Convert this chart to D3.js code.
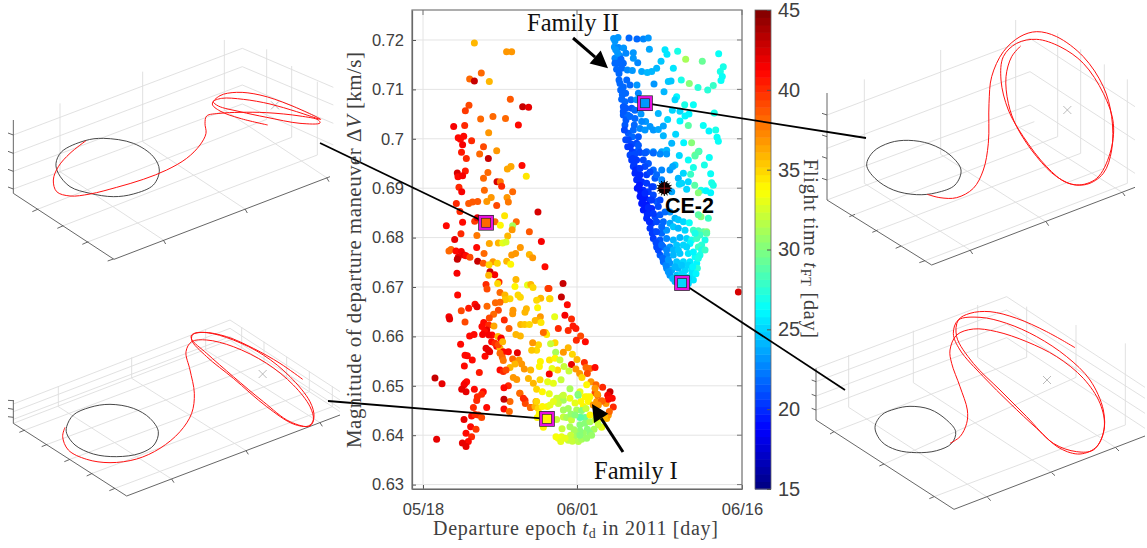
<!DOCTYPE html>
<html>
<head>
<meta charset="utf-8">
<script src="https://cdn.jsdelivr.net/npm/d3@7"></script>
<style>
  html, body { margin: 0; padding: 0; background: #fff; }
  svg { display: block; }
  .tick text { font-family: "Liberation Sans", Arial, sans-serif; fill: #404040; }
  .serif { font-family: "Liberation Serif", serif; fill: #404040; }
</style>
</head>
<body>
<script>
//
// DATA: each point is [days after 05/18, departure dV in m/s, flight time in days]
//
var familyI_upper = [
[4.67,719.4,36],[7.6,717.6,37],[8.06,717.6,37],[5.3,713.3,38],[6.03,711.6,36],[4.24,712.1,38],[4.67,711.7,43],
[7.94,708,38.5],[4.18,706.8,39],[3.85,705.7,39.5],[9.06,706.5,43],[9.6,706.4,42],[6.36,704.5,38],[7.5,704.1,38],
[5.24,704,38],[2.79,702.5,41.5],[3.79,702.7,40],[8.67,702.8,41],[5.97,701.2,37],[3.2,700.2,41],[3.7,700.5,41],
[3.4,699.9,41],[3.6,698.8,41.5],[4.42,699.6,40],[5.5,698.4,39],[3.5,697.3,40.5],[6.7,697.6,37],[5.15,696.9,38],
[3.94,696,40],[5.94,696,43],[9,694.6,41],[8,694.4,36.5],[7.67,693.9,36.5],[9.39,692.4,34.5],[3.85,693.5,40.5],
[3.12,693.1,42.5],[3.18,692.3,41],[3.6,692.5,41.5],[5.9,693.2,38],[5.5,692,38],[6.73,691.3,42.5],[7.03,691.3,37.5],
[7.15,690.4,40],[3.27,690.2,40],[3.52,689.3,41.5],[5.58,689.6,38],[8.15,689.3,38],[6.2,688.1,37],[5.8,687.3,37],
[7.64,688.1,37],[7.76,687.2,37.5],[4.97,687.3,38.5],[4.5,687.2,38.5],[4.15,686.9,38.5],[3.03,686.9,40],[6.7,686.5,39],
[3.36,685.3,40],[10.45,685.2,42.5],[7.42,684.4,34.5],[3.6,683.1,41],[4.7,683.3,39.5],[4.94,684,42],[6.55,683.2,38],
[7.03,682.5,34],[8.48,683.2,38],[8.15,682.4,31],[8.1,681.6,37],[2.12,682.4,41],[3.45,680.8,40],[4.9,680.4,37.5],
[7.7,680.3,36],[9.67,681.2,38.5],[2.88,679.6,42],[10.76,679.2,41.5],[6.03,678.8,36.5],[6.85,678.9,36],[7.24,678.9,33],
[7.55,679.1,32.5],[8.85,678,37],[4.88,678,41],[8.42,676.8,37],[8.06,676.5,37],[9.67,676.6,36],[9.97,675.9,37],
[5.55,676.8,38],[2.36,677.3,38],[2.55,677.6,38],[3,677.3,41],[3.48,677.2,41.5],[3.2,676,42],[3.12,675.6,43],
[3.73,676.5,42],[3.91,676.3,41],[4.27,676,39],[4.97,675.2,43],[5.48,674.8,38.5],[6.36,675.1,37],[6,674.5,35],
[6.76,674.8,35],[7.61,675.2,36],[7.97,674.6,34],[11.09,674.1,41]
];
var familyI_middle = [
[3.09,672.8,41.5],[6.09,673.1,43],[6.52,672.5,41.5],[5.97,672.4,36],[6.91,671,40],[8.45,671.5,36],[5.73,670.5,40],
[5.82,669.6,39],[6.79,670.7,35],[9.5,670.4,33],[9.8,670.5,36],[10,669.9,35],[8.36,670.1,34],[11.36,669.7,39],
[3.15,668.4,41],[7,668.9,38],[7.45,668.4,36],[7.91,667.6,35],[7.48,667.4,35.5],[8.64,668.4,35],[8.85,667.9,35],
[10.7,667.7,36],[10.33,667.3,35],[11.5,667.6,34.5],[10.42,665.8,34],[6.58,666.8,38],[7,666.9,38],[4.73,666.5,41],
[4.91,666,42],[5.82,666.1,38],[4.15,665.7,40.5],[3.48,665.2,39],[6.85,665.3,39],[6.42,664.5,38],[8.18,665.3,37],
[8.15,664.6,37],[9.4,665.6,36],[9.27,664.9,36],[10.67,664,37],[6.03,663.7,39],[2.36,664,41.5],[2.42,663.5,42],
[7.39,663.3,40],[3.82,662.9,39],[5.52,662.8,41],[10.52,663.3,36.5],[10.2,663.2,36],[10.73,662.8,34.5],[8.88,662.4,36],
[9.24,662.4,35.5],[9.67,662.4,35],[7.82,661.6,38.5],[11.12,660.8,36],[5.97,662.3,40],[6.45,662.1,36.5],[5.79,661.3,42],
[5.36,662,41],[5.6,661,41],[5.42,660.4,41.5],[4.24,660.1,41],[4.64,660.4,41],[6.27,660.3,41],[6.82,660,36],[7.1,659.7,41],
[8.45,660.4,36],[8.85,660.1,36],[12.73,670.7,43],[11.45,669.7,39.5],[12.58,668,43],[11.55,667.6,35],[13.12,666.4,41],
[12.9,664.3,41.5],[13.5,663.5,40],[11.97,664,33],[13.64,662.1,40.5],[12.3,661.6,40],[13.2,661.2,40],[13.9,661.6,40.5],
[14.33,660.1,39],[13.94,659.2,40],[14.76,658.9,41],[11.24,660.4,34.5],[10.94,660.8,38],[12,658.7,35],[11.6,658.5,32],
[10.5,658.3,35],[9.97,658.7,37],[10.33,657.2,35],[9.88,657.2,35.5],[13.2,657.7,36],[12.76,656.8,37],[12.06,656.8,31],
[13.58,656.4,35],[10.67,654.9,34],[11.5,655.2,34.5],[12,655.6,34],[12.45,655.2,32],[14,655.3,36],[13.5,654.3,42],
[10.58,653.9,34],[12.82,653.9,32],[12.24,653.2,35],[11.73,653.5,33],[13.27,653,32],[13.9,653.4,37],[14.67,654.7,40],
[14.82,653.7,38],[15.18,653.5,38],[15.64,653.7,41],[14.24,652.5,37],[14.94,652.5,39],[14.45,651.7,35],[12.55,651.2,32],
[11.48,652.4,41.5],[11.33,650.8,33],[11.85,650.5,33],[10.64,651.2,35],[9.79,653.2,36],[9.58,651.5,36],[10.03,650.5,36]
];
var familyI_lowerLeft = [
[1.09,651.6,43],[1.73,650.4,42],[1.24,639.2,42],[3.42,658.4,41],[3.82,656.2,41],[4.03,656.1,41],[4.48,655.2,41],
[3.76,654,41],[5.12,652.7,40.5],[3.97,650.8,41],[3.82,650.5,41],[3.73,650.2,41.5],[3.52,649.3,42],[3.91,648.8,42],
[4.67,649.3,41],[5.48,648.8,41],[5.33,648.3,40],[4.94,647.8,40],[4.88,647,40],[4.58,645.6,40],[5.79,645.6,41],
[3.73,643.2,42],[4.42,643.9,41],[4.73,644.2,40],[5.03,644.1,40],[5.33,643.6,39],[4.33,641.7,41],[4.82,641.2,39.5],
[3.91,640.4,41],[4.42,639.7,40],[4.12,638.7,41],[3.58,638.4,42],[3.91,637.7,42],[7.09,659.5,41.5],[5.73,657.6,42],
[5.94,657.2,42],[5.64,656,41],[6.06,656.9,42],[6.7,658,41],[7,657.6,36],[7.3,656.9,41],[7.76,656.9,41],[8.58,656.7,42],
[7,656.6,38],[7.21,655.8,38],[7.3,655.1,37.5],[8.15,655.4,38],[8.73,655.2,37],[8.36,654.4,36],[8.97,654.4,37],
[9.21,653.4,37],[7.91,653.7,36],[7,653.2,41],[7.3,652.9,40],[7.55,653.2,39],[8.21,651.7,37],[8.52,651.3,37],[7.76,650,40],
[7.36,649.6,41],[7.91,646.8,38],[7.36,647.3,43],[7.36,645.3,41],[7.85,644.8,38],[8.82,648.5,37],[9.27,647.1,40],
[9.3,646.4,39],[9.79,645.6,38.5],[6,660.3,41.5],[6.24,658.9,41],[6.55,658.6,40],[6.85,658.3,39],[7.24,658.9,36]
];
var familyI_lowerRight = [
[8.79,648.5,38],[9.12,647.5,40],[10.27,646.8,37],[9.76,645.6,38],[10.18,645.8,36],[10.48,645.4,35],[10.85,645.8,34],
[11.3,645.8,34],[11.55,646.1,33],[10.39,643.6,34],[10.58,644.4,34],[10.94,641.6,34],[12.15,643.2,32],[11.55,643.4,33],
[12.76,643.7,32],[13.06,643.6,31],[13.5,643.1,32],[14.33,643.7,30],[14.73,643.6,29.5],[12.64,641.3,32],[13.36,641.7,31],
[14.27,642.1,30],[14.73,642.4,30],[15.18,642.7,31],[15.64,643.1,32],[16.03,643.4,33],[16.39,643.8,34],[16.7,643.4,36],
[16.85,644.1,37],[16.24,641.6,33],[15.94,642.1,32],[15.55,641.2,31],[15.18,640.4,30],[14.94,641.2,30],[14.58,640.4,30.5],
[14.27,640.9,30],[14.03,640.2,30.5],[13.73,641.1,31],[13.73,639.7,31],[13.42,640,32],[13.21,639,32],[12.91,639.4,33],
[12.6,639.7,33],[12.3,639.4,33.5],[12.09,639.7,33.5],[12.52,638.7,33],[13.58,638.8,32],[14.12,638.7,31.5],[14.42,639.2,31],
[14.88,639.4,30.5],[15.33,640,30.5],[14.27,640,30],[12.67,647.9,31],[12.36,647.5,32],[12.76,647.1,31],[13.36,647.5,33],
[14.12,648.1,29],[14.36,646.8,34],[14.94,647.8,33],[15.03,646.8,34],[14.58,645.8,34],[13.82,646.5,33],[12.3,646.4,32],
[13.2,645.4,31],[12.76,645.1,31],[13.45,644.3,30.5],[13.97,645.1,31],[14.42,645,30],[14.82,645.4,32],[14.27,643.6,29],
[13.82,644.1,30],[15.18,644.1,34],[15.48,646.1,37],[15.79,646.8,37],[16.24,646.9,38.5],[16.64,646.4,37],[15.88,648.1,38],
[15.64,648.6,39],[12.15,647.5,32],[10.33,649.3,35],[10.85,648.8,34],[11.48,648.4,33],[12.76,648.1,32],[13.36,649.4,31],
[11.85,646.8,33],[10.33,646.8,35],[15.27,650.8,37],[14.88,650.2,34],[15.73,650.2,38],[16.33,649.7,40],[15.64,649.5,37],
[14.27,648.8,33],[14.09,648.3,30],[14.73,647.8,34],[15.18,647.8,34],[15.85,648.3,37],[17,648.8,43],[16.79,648.1,41.5],
[16.85,647.3,41],[17.2,647.5,41],[16.3,646.9,38],[15.94,646.1,37],[17.3,645.7,40],[16.94,644.8,38],[16.52,643.9,36]
];
var familyII_upper = [
[17.33,720.3,23],[17.73,720.5,23],[17.45,719.8,23],[18.73,720.4,22],[19.45,720.2,22],[20.03,720.2,22.5],[20.48,720.4,23],
[17.4,718.6,23],[17.76,718.5,22.5],[18.24,718.4,23],[18.45,717.3,22.5],[19.12,717.4,23],[20.58,718.1,23.5],[22,718,25.5],
[22.18,717.1,25.5],[23.15,717.7,27],[23.88,716.1,31],[25.39,715.7,29.5],[26.88,717.2,26.5],[17.88,716.8,22.5],
[17.45,716.3,22.5],[17.67,715.3,22],[18,716.1,22],[19.52,715.4,22.5],[21.64,715.7,24.5],[27.3,714.6,27],[27.03,713.6,27],
[17.6,714.1,22],[18.06,714.3,22],[18.58,713.9,22.5],[19.03,713.8,23],[19.88,713.6,23.5],[20.39,713.4,24],[20.79,713.6,24],
[21.24,714.3,24],[22.76,714.3,25.5],[27.21,712.6,26.5],[27.09,711.8,26.5],[17.91,711.2,22],[18.52,711.9,22],[18.82,710.9,22],
[19.45,710.9,23],[21,711.1,23],[22.3,711.6,24.5],[22.55,711.7,24.5],[23.48,711.9,27],[24.21,711.2,30],[25,710.4,27.5],
[25.88,709.9,27.5],[26.39,710.8,28],[17.97,709.9,22],[18.12,708.9,22],[18.42,709.2,22],[21.91,709.5,24],[23.06,708.5,26],
[22.91,707.9,25],[18.06,708,22],[18.36,707.5,22],[18.91,707.9,22],[19.42,707.9,23],[18.45,706.2,21.5],[18.97,706.2,21.5],
[19.27,705.8,22],[19.82,705,23],[21.39,705.1,24],[22.67,705.8,25],[23.36,705.6,25],[23.79,706.9,27],[24.58,706.9,26.5],
[24.18,705,26],[23.82,704.6,26],[18.21,704.8,21.5],[18.61,704.8,22],[18.45,703.8,21.5],[20.24,703.5,23],[22.24,703.9,25],
[23.36,703.6,26],[26.48,705.2,27],[18.36,702.8,21.5],[19.21,702.8,22],[19.73,702.1,22.5],[20.64,702.5,23],[20.94,701.8,23],
[21.39,701.9,23.5],[21.85,702.6,23.5],[24.12,702.7,29],[25.48,702.7,26.5],[26,701.6,26],[26.61,701.8,27],[18.67,701.1,21.5],
[19.03,700.4,22],[19.58,700.4,21.5],[21.85,700.6,24],[22.97,700.9,25],[26.73,700.3,26.5],[26.85,699.5,26.5],[18.67,699.8,21],
[18.97,698.9,21],[19.42,699.1,21],[22.61,699.1,24],[23.7,699.2,26],[24.42,699.2,30],[18.82,698.4,20.5],[19.58,697.7,21.5],
[20.33,697.4,22],[20.94,697.4,23],[21.7,697.4,23.5],[22.15,697.7,24],[25.09,697.5,27.5],[24.73,696.7,30],
[17.52,718,23],[17.7,717.3,23],[17.45,715.3,22],[17.82,713.2,22],[17.82,711.9,22],[18.21,710.5,22],[18.21,706.5,21.5],
[18.21,705.5,21.5],[18.82,704.5,22],[18.31,701.8,21],[19.12,701.8,22],[18.43,699.8,21],[18.61,698.4,20.5],[19.03,697.4,20.5],
[19.58,698.7,21.5],[19.27,704.1,22],[19.88,703.5,22.5],[19.58,709.2,22.5],[20.18,701.8,23],[19.12,716.3,23],[18.21,715.3,22]
];
var familyII_lower = [
[18.82,696.7,21],[19.27,696.9,21],[19.73,697.2,21],[20.18,697.1,21.5],[20.94,697.1,22],[21.55,696.9,22.5],[22.15,696.9,23],
[23.3,696.6,25],[24.12,695.7,26.5],[25.03,697.4,29],[24.73,696.5,29],[26.03,696.2,26.5],[18.97,695.7,20.5],[19.42,695.7,20.5],
[20.03,695.7,21],[20.49,695,21.5],[22.91,694.7,24.5],[25.58,694.7,27],[24.58,694.2,27],[19.12,694.4,20.5],[19.58,694,20.5],
[20.18,694.4,21],[20.94,693.7,22],[21.7,693.7,22.5],[22.45,693.7,23],[22.7,694.4,23.5],[23.67,693,25],[24.33,692.8,28],
[26.15,692.9,26.5],[19.27,693,20],[19.73,692.7,20],[20.33,692.7,20.5],[21.09,692,21.5],[21.7,691.7,22.5],[23.21,692,24],
[23.52,691,25],[24.12,691.3,25],[26.24,691.1,27],[26.39,690.6,27],[24.7,690.6,29],[19.42,691.7,20],[19.88,691.3,20],
[20.33,691,20.5],[20.94,690.3,21],[23.3,690.8,25],[23.97,689.8,25],[25.27,689.6,27],[25.73,689.5,26],[25.03,689.1,30],
[26.15,689.1,26],[19.48,690,19.5],[20.03,689.6,20],[20.48,689.3,20.5],[20.94,688.6,21],[22.61,689.3,23.5],[19.73,688.3,19.5],
[20.18,688,19.5],[20.64,687.6,20],[21.24,687.3,21.5],[21.55,687.6,21],[19.88,686.9,19.5],[20.33,686.6,19.5],[20.79,685.9,20],
[21.39,686.3,21],[20.03,685.6,19.5],[20.48,684.9,20],[21.09,684.2,21],[21.55,684.6,21.5],[22.91,683.9,24],[23.21,683.6,24.5],
[23.67,683.2,25],[24.21,683,26.5],[25.27,684.2,30],[25.94,683.9,28],[25.03,684.6,29],[20.33,683.9,20],[20.79,682.9,20.5],
[21.24,683.2,21],[21.85,683.2,22],[22.45,682.9,23.5],[20.64,681.9,20.5],[21.09,681.2,21],[21.7,680.9,22],[22.15,681.5,23],
[22.76,682.2,24.5],[23.21,681.9,24],[23.82,681.5,25],[24.58,681.5,28],[25.03,681.4,28.5],[25.49,681.2,29],[25.79,681.2,30],
[25.18,680.5,28],[20.94,679.8,20.5],[21.55,679.5,21.5],[22.15,679.8,22.5],[22.76,679.5,24],[23.36,680,24],[23.97,679.8,25],
[24.42,679.5,27],[24.88,679.8,28],[25.64,679.5,27],[25.33,678.5,27.5],[21.24,678.1,21],[21.85,678.1,22],[22.45,678.1,23],
[23.06,678.5,24.5],[23.67,678.5,25],[24.27,678.8,26],[25.03,678.1,28],[21.55,676.5,21.5],[22.15,676.5,22.5],[22.76,676.5,24],
[23.36,676.8,24.5],[24.12,676.8,25.5],[24.73,676.1,26.5],[25.33,677.5,27],[21.85,675.1,22],[22.45,674.8,23],[23.06,675.1,24.5],
[23.67,675.1,25],[24.27,675.1,25.5],[24.88,674.8,26],[22.15,673.8,22.5],[22.61,673.4,23.5],[23.21,673.8,24],[23.82,673.4,25],
[24.42,673.4,25.5],[24.94,673.8,27.5],[22.45,672.4,23],[23.06,672.4,24.5],[23.82,672.1,25],[24.42,672.4,25.5],[24.82,672.7,26],
[22.91,671.1,24],[24.12,670.7,25],[24.58,671.4,25.5],
[19.06,696,20.5],[19.18,694.9,20.5],[19.33,693.7,20],[19.58,692,20],[19.67,690.6,19.5],[19.79,689.3,19.5],[19.97,687.6,19.5],
[20.18,685.9,19.5],[20.39,684.6,20],[20.58,683.2,20],[20.85,680.9,20.5],[21.18,679,21],[21.39,677.5,21],[21.79,675.8,22],
[22.09,674.4,22.5],[22.3,673.1,23],[22.7,671.7,24],[19.73,694,20.5],[20.64,693.3,21],[21.24,692.7,22],[20.79,690.3,20.5],
[20.18,689,20],[20.79,687.6,20.5],[20.48,686.1,20],[20.94,684.9,20.5],[21.7,682.2,22],[21.24,681.2,21],[21.7,678.5,22],
[22.15,677.5,22.5],[22.76,677.5,24],[22.3,675.5,23],[22.91,674.1,24],[23.52,672.7,25],[23.52,674.4,24.5],[24.12,674.4,25],
[24.12,671.7,25],[23.36,671.7,25],[23.21,677.5,24.5],[23.97,678.1,25],[24.58,677.1,26],[25.18,676.5,27],[24.52,674.1,26],
[25.03,675.8,27],[25.64,677.5,28],[25.79,680.9,29],[24.73,680.9,27],[22.45,685.2,23],[22,685.2,22]
];
var outliers = [[28.67,669,42.5]];
var picked = [[5.73,683,38],[11.27,643.3,34],[20.18,707.2,23],[23.55,670.8,25]];
var ce2 = [21.94,690,22];

var xTickDays = [0,14,29];
var xTickLabels = ["05/18","06/01","06/16"];
var yTicks = [0.63,0.64,0.65,0.66,0.67,0.68,0.69,0.7,0.71,0.72];
var cTicks = [15,20,25,30,35,40,45];

// 3D thumbnails. Coordinates are read in a 3x crop of each panel, 'at' is the crop origin
var panelTL_at = [0,30];
var panelTL_grid = [[40,315,727,55],[40,370,727,110],[40,424,727,165],[40,477,727,222],[727,55,1000,172],[727,110,1000,225],[727,165,1000,280],[727,222,1000,345],
  [180,220,180,430],[428,125,428,335],[673,30,673,240],[800,58,800,268],[875,108,875,322],[952,155,952,375],
  [115,537,800,268],[190,587,875,322],[265,635,952,375],[180,425,490,630],[428,335,735,537],[673,240,980,443]];
var panelTL_axes = [[40,270,40,490],[40,490,342,688],[342,688,990,440],[40,315,24,309],[40,370,24,364],[40,424,24,418],[40,477,24,471],
  [115,537,97,545],[190,587,172,595],[265,635,247,643],[340,687,323,693],[490,630,497,642],[735,537,742,549],[980,443,987,455]];
var panelTL_moon = [825,226];
var panelTL_orbit = [[168,400],[185,365],[255,332],[310,325],[400,340],[460,380],[478,420],[460,465],[400,492],[340,500],[270,490],[210,470],[175,430]];
var panelTL_path = [[258,332],[210,370],[175,410],[160,450],[170,485],[210,498],[270,492],[350,472],[430,448],[500,420],[560,385],[600,345],[618,310],[615,280],[620,258],[660,250],[720,247],[800,248],[900,258],[955,270],[960,279],[900,280],[800,262],[720,245],[655,228],[640,215],[665,205],[730,208],[810,222],[890,245],[962,268],[870,225],[780,195],[710,187],[660,197],[637,222],[660,243],[720,265],[803,285]];
var panelTL_end = [960,339];

var panelBL_at = [0,310];
var panelBL_grid = [[40,282,690,30],[40,305,690,55],[40,328,690,80],[690,30,1020,245],[690,55,1020,270],[690,80,1020,295],
  [175,228,175,290],[395,142,395,205],[617,58,617,120],[725,52,725,115],[792,95,792,160],[860,140,860,205],[928,183,928,245],[997,228,997,290],
  [75,360,725,115],[142,403,792,160],[210,448,860,205],[277,490,928,245],[345,535,997,290],[175,290,515,507],[395,205,738,422],[617,120,960,338],[40,340,690,90],[690,90,1020,305]];
var panelBL_axes = [[40,270,40,340],[40,340,380,558],[380,558,1020,315],[40,272,24,271],[40,298,24,295],[40,322,24,320],
  [75,360,58,367],[142,403,125,410],[210,448,193,455],[277,490,260,498],[345,535,328,542],[515,507,522,518],[738,422,745,433],[960,338,967,349]];
var panelBL_moon = [788,192];
var panelBL_orbit = [[200,350],[220,315],[270,292],[330,283],[400,295],[450,325],[475,365],[462,405],[420,430],[350,440],[280,432],[225,405],[200,370]];
var panelBL_path = [[195,352],[188,380],[205,420],[260,448],[330,458],[410,447],[480,415],[540,365],[575,310],[583,250],[570,180],[558,125],[575,95],[620,90],[700,110],[800,160],[880,225],[930,290],[940,330],[925,348],[880,342],[800,290],[700,205],[620,140],[575,90],[580,72],[620,68],[700,90],[790,135],[870,200],[930,275],[942,320],[930,348],[870,335],[790,275],[700,200],[620,130],[575,88],[575,75],[610,67],[680,80],[760,115],[840,160],[908,208]];
var panelBL_end = [984,273];

var panelTR_at = [840,20];
var panelTR_grid = [[-39,285,570,55],[-39,385,570,155],[-39,480,570,255],[570,55,885,260],[570,155,885,360],[570,255,885,460],
  [73,178,73,490],[302,90,302,403],[527,0,527,315],[653,40,653,350],[722,88,722,400],[793,133,793,445],[862,178,862,490],
  [73,490,390,690],[302,403,618,605],[527,315,848,518],[45,583,653,350],[113,630,722,400],[183,678,793,445],[255,722,862,490],[-39,540,583,305]];
var panelTR_axes = [[-39,219,-39,540],[-39,540,275,735],[275,735,885,502],[-39,285,-54,280],[-39,350,-54,345],[-39,415,-54,410],[-39,480,-54,475],
  [45,583,28,590],[113,630,97,637],[183,678,167,685],[255,722,238,728],[390,690,398,702],[618,605,626,617],[848,518,855,528]];
var panelTR_moon = [682,270];
var panelTR_orbit = [[80,435],[100,395],[150,368],[205,361],[270,372],[330,405],[363,450],[345,495],[290,518],[230,524],[160,510],[105,475]];
var panelTR_path = [[262,523],[300,533],[350,533],[400,505],[430,450],[445,370],[447,250],[455,170],[490,95],[540,50],[590,35],[650,50],[730,110],[790,200],[815,290],[815,390],[790,460],[740,493],[680,488],[620,440],[550,350],[505,270],[483,180],[490,110],[530,70],[590,58],[660,80],[730,130],[790,220],[820,310],[810,400],[770,475],[710,495],[650,470],[590,410],[530,320],[505,250],[498,170],[515,110],[542,78]];
var panelTR_end = [78,354];

var panelBR_at = [810,300];
var panelBR_grid = [[18,205,590,-10],[18,245,590,30],[18,288,590,72],[18,330,590,113],[590,-10,1005,262],[590,30,1005,295],[590,72,1005,340],[590,113,1005,385],
  [116,165,116,322],[310,92,310,248],[503,15,503,172],[650,20,650,172],[798,75,798,232],[946,130,946,375],
  [72,395,650,172],[222,492,798,232],[372,590,946,375],[116,322,533,592],[310,248,725,518],[503,172,917,443]];
var panelBR_axes = [[18,205,18,360],[18,360,432,628],[432,628,1005,408],[18,245,5,240],[18,288,5,283],[18,330,5,325],
  [72,395,60,402],[222,492,208,498],[372,590,358,596],[533,592,542,602],[725,518,735,527],[917,443,927,453]];
var panelBR_moon = [711,240];
var panelBR_orbit = [[195,382],[215,345],[255,327],[300,319],[360,328],[410,360],[437,395],[425,430],[380,452],[320,458],[260,450],[215,425]];
var panelBR_path = [[420,430],[450,410],[470,370],[472,330],[450,260],[425,190],[420,150],[440,105],[490,87],[560,95],[650,125],[740,170],[820,235],[870,310],[883,380],[860,440],[810,462],[750,445],[680,385],[600,310],[520,230],[450,150],[430,100],[445,60],[510,52],[590,70],[680,110],[770,170],[840,240],[880,330],[880,400],[850,450],[800,455],[730,430],[650,350],[570,270],[490,190],[440,110],[445,60],[480,40],[540,35],[620,55],[710,95],[795,143]];
var panelBR_end = [105,270];

//
// SET UP
//
var width = 1147, height = 548;
var svg = d3.select("body").append("svg").attr("width",width).attr("height",height);

var x = d3.scaleLinear().domain([-1,29]).range([412,742]);
var y = d3.scaleLinear().domain([0.62911,0.72607]).range([489,10]);
var c = d3.scaleLinear().domain([15,45]).range([0,1]).clamp(true);

// MATLAB jet colormap, 64 steps
function jet(t){
    var level = Math.min(63,Math.floor(t*64));
    var v = (level+0.5)/64;
    function ch(o){ return Math.round(255*Math.max(0,Math.min(1,1.5-Math.abs(4*v-o)))); }
    return "rgb("+ch(3)+","+ch(2)+","+ch(1)+")";
}
function colorOf(tof){ return jet(c(tof)); }

//
// 3D THUMBNAILS
//
function drawPanel(at,grid,axes,moon,orbit,path){
    var px = d3.scaleLinear().domain([0,3]).range([at[0],at[0]+1]);
    var py = d3.scaleLinear().domain([0,3]).range([at[1],at[1]+1]);
    var g = svg.append("g");
    function segs(list,color,w){
        g.selectAll(null).data(list).enter().append("line")
         .attr("x1",function(d){return px(d[0])}).attr("y1",function(d){return py(d[1])})
         .attr("x2",function(d){return px(d[2])}).attr("y2",function(d){return py(d[3])})
         .attr("stroke",color).attr("stroke-width",w);
    }
    segs(grid,"#dedede",0.9);
    segs(axes,"#555",0.9);
    var m = 12;
    segs([[moon[0]-m,moon[1]-m,moon[0]+m,moon[1]+m],[moon[0]-m,moon[1]+m,moon[0]+m,moon[1]-m]],"#aaa",0.8);
    var line = d3.line().x(function(d){return px(d[0])}).y(function(d){return py(d[1])});
    g.append("path").attr("d",line.curve(d3.curveCatmullRomClosed)(orbit))
     .attr("fill","none").attr("stroke","#333").attr("stroke-width",0.9);
    g.append("path").attr("d",line.curve(d3.curveCatmullRom)(path))
     .attr("fill","none").attr("stroke","#f11").attr("stroke-width",1);
}
drawPanel(panelTL_at,panelTL_grid,panelTL_axes,panelTL_moon,panelTL_orbit,panelTL_path);
drawPanel(panelBL_at,panelBL_grid,panelBL_axes,panelBL_moon,panelBL_orbit,panelBL_path);
drawPanel(panelTR_at,panelTR_grid,panelTR_axes,panelTR_moon,panelTR_orbit,panelTR_path);
drawPanel(panelBR_at,panelBR_grid,panelBR_axes,panelBR_moon,panelBR_orbit,panelBR_path);

//
// MAIN AXES
//
// plot area is white so it hides whatever the thumbnails have behind it
svg.append("rect").attr("x",x(-1)).attr("y",y(0.72607)).attr("width",x(29)-x(-1)).attr("height",y(0.62911)-y(0.72607)).attr("fill","#fff");

var grid = svg.append("g");
grid.selectAll(null).data(yTicks).enter().append("line")
    .attr("x1",x(-1)).attr("x2",x(29)).attr("y1",function(d){return y(d)}).attr("y2",function(d){return y(d)})
    .attr("stroke","#e4e4e4");
grid.selectAll(null).data(xTickDays).enter().append("line")
    .attr("y1",y(0.62911)).attr("y2",y(0.72607)).attr("x1",function(d){return x(d)}).attr("x2",function(d){return x(d)})
    .attr("stroke","#e4e4e4");

var allPoints = familyI_upper.concat(familyI_middle,familyI_lowerLeft,familyI_lowerRight,familyII_upper,familyII_lower,outliers);

svg.append("g").selectAll("circle").data(allPoints).enter().append("circle")
   .attr("cx",function(d){return x(d[0])})
   .attr("cy",function(d){return y(d[1]/1000)})
   .attr("r",3.5)
   .attr("fill",function(d){return colorOf(d[2])});

var xAxis = d3.axisBottom(x).tickValues(xTickDays)
    .tickFormat(function(d,i){return xTickLabels[i]}).tickSize(-4).tickSizeOuter(0).tickPadding(14);
var yAxis = d3.axisLeft(y).tickValues(yTicks).tickFormat(d3.format(".2~f")).tickSize(-4).tickSizeOuter(0).tickPadding(8);

svg.append("g").attr("transform","translate(0,489)").call(xAxis);
svg.append("g").attr("transform","translate(412,0)").call(yAxis);
svg.selectAll(".tick text").attr("font-size",16.5).style("font-size","16.5px");
svg.selectAll(".tick line").attr("stroke","#555");
svg.selectAll(".domain").attr("stroke","#555").attr("stroke-width",1.2);

// right and top ticks plus the box
var box = svg.append("g").attr("stroke","#777");
box.append("rect").attr("x",x(-1)).attr("y",y(0.72607)).attr("width",x(29)-x(-1)).attr("height",y(0.62911)-y(0.72607))
   .attr("fill","none").attr("stroke-width",1.2);
box.selectAll(null).data(yTicks).enter().append("line")
   .attr("x1",x(29)-5).attr("x2",x(29)).attr("y1",function(d){return y(d)}).attr("y2",function(d){return y(d)});
box.selectAll(null).data(xTickDays).enter().append("line")
   .attr("y1",y(0.72607)).attr("y2",y(0.72607)+5).attr("x1",function(d){return x(d)}).attr("x2",function(d){return x(d)});

//
// COLORBAR
//
var cbY = d3.scaleLinear().domain([15,45]).range([489,10]);
var levels = d3.range(64);
svg.append("g").selectAll("rect").data(levels).enter().append("rect")
   .attr("x",755).attr("width",16)
   .attr("y",function(d){return cbY(15+(d+1)*30/64)})
   .attr("height",cbY(15)-cbY(15+30/64)+0.5)
   .attr("fill",function(d){return jet((d+0.5)/64)});
svg.append("rect").attr("x",755).attr("y",10).attr("width",16).attr("height",479).attr("fill","none").attr("stroke","#666").attr("stroke-width",0.8);
var cAxis = d3.axisRight(cbY).tickValues(cTicks).tickFormat(d3.format("d")).tickSize(-4).tickSizeOuter(0).tickPadding(7);
var cG = svg.append("g").attr("transform","translate(771,0)").call(cAxis);
cG.select(".domain").remove();
cG.selectAll(".tick text").style("font-size","20px");
cG.selectAll(".tick line").attr("stroke","#555");

//
// CALLOUTS
//
function panelPoint(at,p){ return [at[0]+p[0]/3, at[1]+p[1]/3]; }
var callouts = [
    [picked[0],panelPoint(panelTL_at,panelTL_end)],
    [picked[1],panelPoint(panelBL_at,panelBL_end)],
    [picked[2],panelPoint(panelTR_at,panelTR_end)],
    [picked[3],panelPoint(panelBR_at,panelBR_end)]
];
svg.append("g").selectAll("line").data(callouts).enter().append("line")
   .attr("x1",function(d){return x(d[0][0])}).attr("y1",function(d){return y(d[0][1]/1000)})
   .attr("x2",function(d){return d[1][0]}).attr("y2",function(d){return d[1][1]})
   .attr("stroke","#000").attr("stroke-width",1.8);

var sq = svg.append("g").selectAll("g").data(picked).enter().append("g")
   .attr("transform",function(d){return "translate("+x(d[0])+","+y(d[1]/1000)+")"});
sq.append("rect").attr("x",-7.8).attr("y",-7.8).attr("width",15.6).attr("height",15.6).attr("fill","#222");
sq.append("rect").attr("x",-7.1).attr("y",-7.1).attr("width",14.2).attr("height",14.2).attr("fill","#e610e0");
sq.append("rect").attr("x",-4.8).attr("y",-4.8).attr("width",9.6).attr("height",9.6).attr("fill","#222");
sq.append("rect").attr("x",-4.2).attr("y",-4.2).attr("width",8.4).attr("height",8.4).attr("fill",function(d){return colorOf(d[2])});

// CE-2 marker
var ce = svg.append("g").attr("transform","translate("+x(ce2[0])+","+y(ce2[1]/1000)+")");
ce.append("circle").attr("r",6.2).attr("fill","#160404");
d3.range(0,180,22.5).forEach(function(a){
    var r = a*Math.PI/180;
    ce.append("line").attr("x1",-7.8*Math.cos(r)).attr("y1",-7.8*Math.sin(r)).attr("x2",7.8*Math.cos(r)).attr("y2",7.8*Math.sin(r))
      .attr("stroke","#000").attr("stroke-width",1);
});
[0,90].forEach(function(a){
    var r = a*Math.PI/180;
    ce.append("line").attr("x1",-5.5*Math.cos(r)).attr("y1",-5.5*Math.sin(r)).attr("x2",5.5*Math.cos(r)).attr("y2",5.5*Math.sin(r))
      .attr("stroke","#b01818").attr("stroke-width",0.8);
});
svg.append("text").attr("x",665).attr("y",213).attr("font-family","'Liberation Sans',Arial,sans-serif")
   .attr("font-weight","bold").attr("font-size",21.5).attr("fill","#000").text("CE-2");

// Family arrows
var arrows = [
    [[13.64,720.4],[16.82,714.3]],
    [[18.18,636.6],[15.36,646.3]]
];
arrows.forEach(function(a){
    var x1=x(a[0][0]), y1=y(a[0][1]/1000), x2=x(a[1][0]), y2=y(a[1][1]/1000);
    var ang=Math.atan2(y2-y1,x2-x1), L=17, W=8.5;
    var bx=x2-L*Math.cos(ang), by=y2-L*Math.sin(ang);
    svg.append("line").attr("x1",x1).attr("y1",y1).attr("x2",bx).attr("y2",by).attr("stroke","#000").attr("stroke-width",3);
    svg.append("path").attr("d",d3.line()([[x2,y2],[bx-W*Math.sin(ang),by+W*Math.cos(ang)],[bx+W*Math.sin(ang),by-W*Math.cos(ang)]])+"Z").attr("fill","#000");
});

svg.append("text").attr("class","serif").attr("x",527).attr("y",31).attr("font-size",24.5).style("fill","#111").text("Family II");
svg.append("text").attr("class","serif").attr("x",594).attr("y",479).attr("font-size",24.5).style("fill","#111").text("Family I");

//
// AXIS LABELS
//
var xl = svg.append("text").attr("class","serif").attr("x",433).attr("y",535).attr("font-size",20).attr("textLength",285);
xl.append("tspan").text("Departure epoch ");
xl.append("tspan").attr("font-style","italic").text("t");
xl.append("tspan").attr("font-size",14).attr("dy",3).text("d");
xl.append("tspan").attr("dy",-3).text(" in 2011 [day]");

var yl = svg.append("text").attr("class","serif").attr("transform","translate(361,448) rotate(-90)").attr("font-size",21).attr("textLength",396);
yl.append("tspan").text("Magnitude of departure maneuver \u0394");
yl.append("tspan").attr("font-style","italic").text("V");
yl.append("tspan").text(" [km/s]");

var cl = svg.append("text").attr("class","serif").attr("transform","translate(804,159) rotate(90)").attr("font-size",20).attr("textLength",179);
cl.append("tspan").text("Flight time ");
cl.append("tspan").attr("font-style","italic").text("t");
cl.append("tspan").attr("font-size",14).attr("dy",3).text("FT");
cl.append("tspan").attr("dy",-3).text(" [day]");
</script>
</body>
</html>
